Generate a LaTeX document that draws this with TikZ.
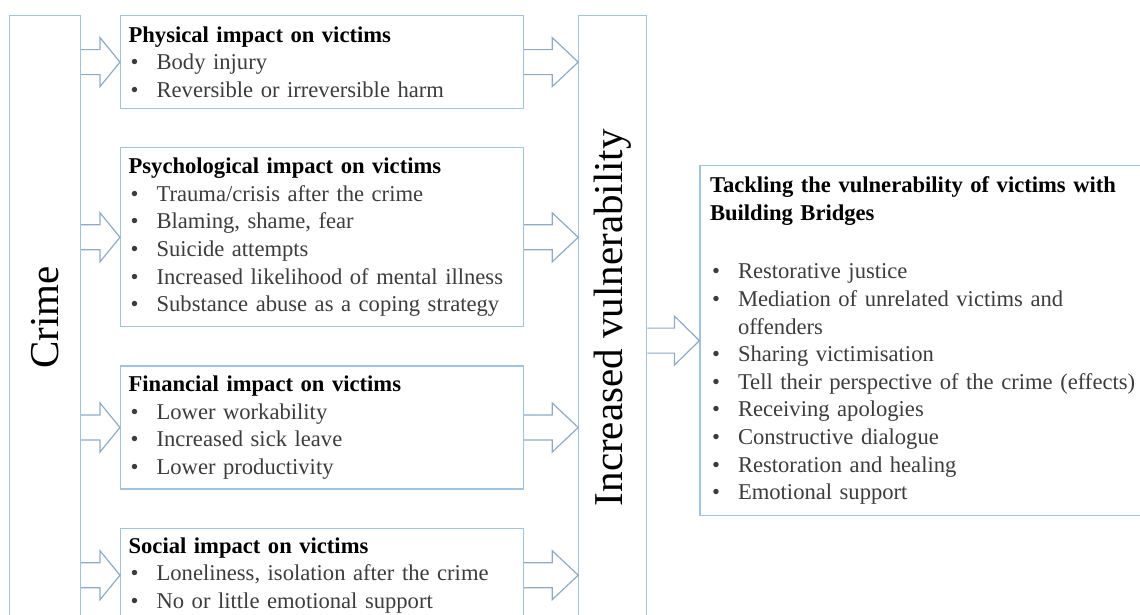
\documentclass[tikz,border=0pt]{standalone}
\usepackage{fontspec}
\setmainfont{Liberation Serif}
\usepackage{graphicx}
\usepackage{xcolor}
\usetikzlibrary{positioning,calc}

\definecolor{boxblue}{RGB}{157,195,230}
\definecolor{arrowblue}{RGB}{140,170,205}
\definecolor{itemgray}{RGB}{60,60,60}

% bullet item with hanging indent
\newcommand{\itm}[1]{\par\hangindent=28pt\hangafter=1\noindent\makebox[28pt][l]{\hspace{2pt}\textbullet}#1}
% open block arrow from #2 to #3, head length #1
\newcommand{\blockarrow}[3][25]{%
  \draw[bigarrow] let \p1=(#2), \p2=(#3) in
    (\x1,\y1+12.5pt) -- (\x2-#1pt,\y1+12.5pt) -- (\x2-#1pt,\y1+24.5pt) -- (\x2,\y1)
    -- (\x2-#1pt,\y1-24.5pt) -- (\x2-#1pt,\y1-12.5pt) -- (\x1,\y1-12.5pt);}

\begin{document}
\begin{tikzpicture}[
    x=1pt, y=1pt,
    node distance=38pt,
    box/.style={rectangle, draw=boxblue, line width=1.2pt, minimum width=403pt, text width=387pt, inner xsep=8pt, inner ysep=0pt, align=left, font=\fontsize{22.6}{27.6}\selectfont, text=itemgray},
    tallbox/.style={rectangle, draw=boxblue, line width=1.2pt, minimum width=71pt, minimum height=604pt, inner sep=0pt, font=\fontsize{41}{48}\selectfont},
    bigarrow/.style={draw=arrowblue, line width=1.2pt, line join=miter}
]
    \useasboundingbox (0,0) rectangle (1140,-614);
    \clip (0,0) rectangle (1140,-614);

    \node[box, minimum height=93pt, anchor=north west] (physical) at (120,-15)
        {\textcolor{black}{\bfseries Physical impact on victims}
         \itm{Body injury}
         \itm{Reversible or irreversible harm}};
    \node[box, minimum height=179pt, below=of physical] (psych)
        {\textcolor{black}{\bfseries Psychological impact on victims}
         \itm{Trauma/crisis after the crime}
         \itm{Blaming, shame, fear}
         \itm{Suicide attempts}
         \itm{Increased likelihood of mental illness}
         \itm{Substance abuse as a coping strategy}};
    \node[box, minimum height=123pt, below=of psych] (financial)
        {\textcolor{black}{\bfseries Financial impact on victims}
         \itm{Lower workability}
         \itm{Increased sick leave}
         \itm{Lower productivity}};
    \node[box, minimum height=94pt, below=of financial] (social)
        {\textcolor{black}{\bfseries Social impact on victims}
         \itm{Loneliness, isolation after the crime}
         \itm{No or little emotional support}};

    \node[tallbox, anchor=north east] (crime) at ([xshift=-39pt]physical.north west)
        {\rotatebox{90}{Crime}};
    \node[tallbox, minimum width=68pt, anchor=north west] (vuln) at ([xshift=54pt]physical.north east)
        {\rotatebox{90}{Increased vulnerability}};

    \node[box, text width=440pt, minimum width=460pt, minimum height=350pt, anchor=north west] (tackling)
        at ([xshift=52pt, yshift=-150pt]vuln.north east)
        {\textcolor{black}{\bfseries Tackling the vulnerability of victims with\newline Building Bridges}
         \par\vspace{31pt}
         \itm{Restorative justice}
         \itm{Mediation of unrelated victims and\newline offenders}
         \itm{Sharing victimisation}
         \itm{Tell their perspective of the crime (effects)}
         \itm{Receiving apologies}
         \itm{Constructive dialogue}
         \itm{Restoration and healing}
         \itm{Emotional support}};

    % crime to the four impacts
    \blockarrow[20]{crime.east |- physical.west}{physical.west}
    \blockarrow[20]{crime.east |- psych.west}{psych.west}
    \blockarrow[20]{crime.east |- financial.west}{financial.west}
    \blockarrow[20]{crime.east |- social.west}{social.west}
    % impacts to vulnerability
    \blockarrow[26]{physical.east}{vuln.west |- physical.east}
    \blockarrow[26]{psych.east}{vuln.west |- psych.east}
    \blockarrow[26]{financial.east}{vuln.west |- financial.east}
    \blockarrow[26]{social.east}{vuln.west |- social.east}
    % vulnerability to building bridges
    \blockarrow{vuln.east |- tackling.west}{tackling.west}
\end{tikzpicture}
\end{document}
